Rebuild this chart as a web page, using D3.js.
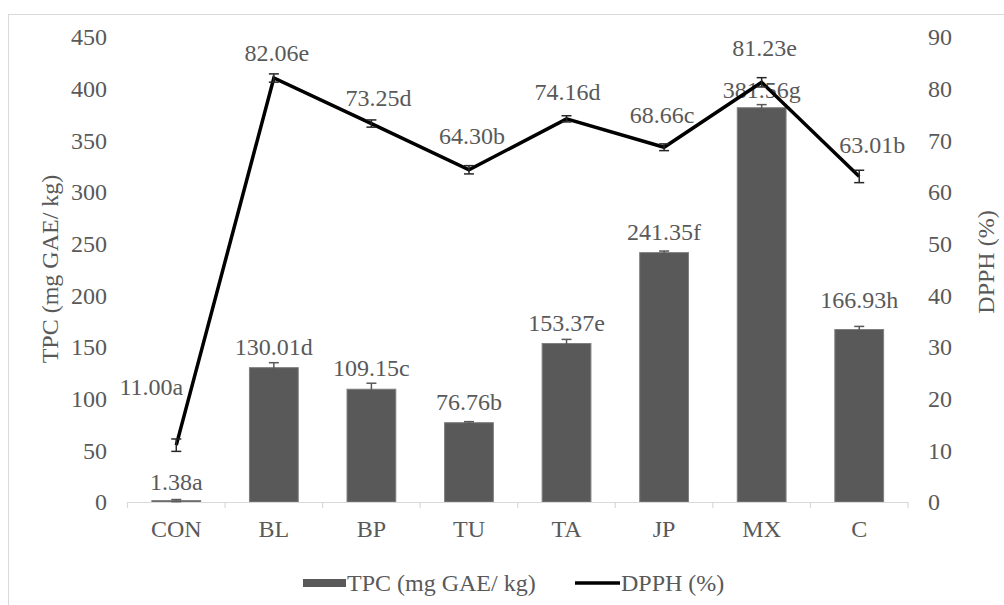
<!DOCTYPE html>
<html>
<head>
<meta charset="utf-8">
<script src="https://cdn.jsdelivr.net/npm/d3@7"></script>
<style>
  html, body { margin: 0; padding: 0; background: #fff; }
</style>
</head>
<body>
<svg id="chart" width="1004" height="605" font-family="'Liberation Serif', 'Times New Roman', 'DejaVu Serif', serif"></svg>
<script>
// Samples
const categories = ["CON", "BL", "BP", "TU", "TA", "JP", "MX", "C"];

// Total phenolic content (mg GAE/ kg) with standard deviation
const tpcValues = [1.38, 130.01, 109.15, 76.76, 153.37, 241.35, 381.56, 166.93];
const tpcErrors = [1.0, 4.8, 5.8, 1.0, 4.0, 1.5, 3.0, 3.0];
const tpcLetters = ["a", "d", "c", "b", "e", "f", "g", "h"];

// DPPH radical scavenging (%) with standard deviation
const dpphValues = [11.00, 82.06, 73.25, 64.30, 74.16, 68.66, 81.23, 63.01];
const dpphErrors = [1.2, 0.8, 0.7, 0.8, 0.6, 0.65, 0.9, 1.2];
const dpphLetters = ["a", "e", "d", "b", "d", "c", "e", "b"];

// Axis ticks
const leftTicks = [0, 50, 100, 150, 200, 250, 300, 350, 400, 450];
const rightTicks = [0, 10, 20, 30, 40, 50, 60, 70, 80, 90];

// Label placement nudges (dx, dy in px from the mark)
const dpphLabelShift = [[-25, -58], [3, -25], [7, -26], [3, -34], [1, -27], [-2, -32], [3, -34], [13, -31]];
const tpcLabelShift = [-19, -21, -21, -21, -21, -21, -18, -30];

const FONT_FAMILY = "'Liberation Serif', 'Times New Roman', 'DejaVu Serif', serif";
const FONT = 24;
const textColor = "#595959";

const svg = d3.select("#chart");

function styleText(sel) {
  return sel.attr("font-family", FONT_FAMILY)
    .attr("font-size", FONT)
    .attr("fill", textColor);
}

// Outer chart frame
svg.append("rect")
  .attr("x", 8.5).attr("y", 14.5)
  .attr("width", 1010).attr("height", 600)
  .attr("fill", "none").attr("stroke", "#d9d9d9").attr("stroke-width", 1);

const x = d3.scaleBand()
  .domain(categories)
  .range([127.5, 908])
  .paddingInner(0.5)
  .paddingOuter(0.25);

const yL = d3.scaleLinear().domain([0, 450]).range([502, 37]);
const yR = d3.scaleLinear().domain([0, 90]).range([502, 37]);

const cx = c => x(c) + x.bandwidth() / 2;

// Left axis labels
const gL = svg.append("g").attr("transform", "translate(107,0)")
  .call(d3.axisLeft(yL).tickValues(leftTicks).tickSize(0).tickPadding(0));
gL.attr("font-family", FONT_FAMILY);
gL.select(".domain").remove();
styleText(gL.selectAll("text"));

// Right axis labels
const gR = svg.append("g").attr("transform", "translate(928,0)")
  .call(d3.axisRight(yR).tickValues(rightTicks).tickSize(0).tickPadding(0));
gR.attr("font-family", FONT_FAMILY);
gR.select(".domain").remove();
styleText(gR.selectAll("text"));

// Bars
svg.append("g").selectAll("rect")
  .data(categories)
  .join("rect")
  .attr("x", c => x(c))
  .attr("width", x.bandwidth())
  .attr("y", (c, i) => yL(tpcValues[i]))
  .attr("height", (c, i) => yL(0) - yL(tpcValues[i]))
  .attr("fill", "#595959")
  .attr("stroke", "#7f7f7f")
  .attr("stroke-width", 1);

// Category axis: baseline, separator ticks and labels
const gX = svg.append("g").attr("transform", "translate(0,502)")
  .call(d3.axisBottom(x).tickSize(0).tickPadding(18));
gX.attr("font-family", FONT_FAMILY);
gX.select(".domain").attr("stroke", "#d9d9d9").attr("stroke-width", 1.2);
styleText(gX.selectAll("text"));

const half = x.step() * x.paddingInner() / 2;
const sepPositions = categories.map(c => x(c) - half)
  .concat([x(categories[categories.length - 1]) + x.bandwidth() + half]);
svg.append("g").selectAll("line")
  .data(sepPositions)
  .join("line")
  .attr("x1", d => d).attr("x2", d => d)
  .attr("y1", 502).attr("y2", 508)
  .attr("stroke", "#d9d9d9").attr("stroke-width", 1.2);

// Error bars
function errorBars(g, values, errors, scale, color, width, cap) {
  categories.forEach((c, i) => {
    const xc = cx(c);
    const y1 = scale(values[i] + errors[i]);
    const y0 = scale(Math.max(0, values[i] - errors[i]));
    g.append("line").attr("x1", xc).attr("x2", xc).attr("y1", y0).attr("y2", y1)
      .attr("stroke", color).attr("stroke-width", width);
    [y0, y1].forEach(yy => g.append("line")
      .attr("x1", xc - cap).attr("x2", xc + cap).attr("y1", yy).attr("y2", yy)
      .attr("stroke", color).attr("stroke-width", width));
  });
}
errorBars(svg.append("g"), tpcValues, tpcErrors, yL, "#595959", 1.5, 5);

// Bar value labels
styleText(svg.append("g").selectAll("text")
  .data(categories)
  .join("text")
  .attr("x", c => cx(c))
  .attr("y", (c, i) => yL(tpcValues[i]) + tpcLabelShift[i])
  .attr("text-anchor", "middle")
  .attr("dominant-baseline", "central")
  .text((c, i) => tpcValues[i].toFixed(2) + tpcLetters[i]));

// DPPH line
const line = d3.line()
  .x((d, i) => cx(categories[i]))
  .y(d => yR(d));
svg.append("path")
  .datum(dpphValues)
  .attr("d", line)
  .attr("fill", "none")
  .attr("stroke", "#000")
  .attr("stroke-width", 3.5)
  .attr("stroke-linejoin", "miter");

errorBars(svg.append("g"), dpphValues, dpphErrors, yR, "#262626", 1.5, 5);

// DPPH value labels
styleText(svg.append("g").selectAll("text")
  .data(categories)
  .join("text")
  .attr("x", (c, i) => cx(c) + dpphLabelShift[i][0])
  .attr("y", (c, i) => yR(dpphValues[i]) + dpphLabelShift[i][1])
  .attr("text-anchor", "middle")
  .attr("dominant-baseline", "central")
  .text((c, i) => dpphValues[i].toFixed(2) + dpphLetters[i]));

// Axis titles
styleText(svg.append("text")
  .attr("transform", "translate(50,269) rotate(-90)")
  .attr("text-anchor", "middle")
  .attr("dominant-baseline", "central")
  .text("TPC (mg GAE/ kg)"));

styleText(svg.append("text")
  .attr("transform", "translate(986,262) rotate(-90)")
  .attr("text-anchor", "middle")
  .attr("dominant-baseline", "central")
  .text("DPPH (%)"));

// Legend
const lg = svg.append("g");
lg.append("rect").attr("x", 303).attr("y", 579).attr("width", 43).attr("height", 8)
  .attr("fill", "#595959");
styleText(lg.append("text").attr("x", 347).attr("y", 583).attr("dominant-baseline", "central")
  .text("TPC (mg GAE/ kg)"));
lg.append("line").attr("x1", 575).attr("x2", 620).attr("y1", 583).attr("y2", 583)
  .attr("stroke", "#000").attr("stroke-width", 3.5);
styleText(lg.append("text").attr("x", 621).attr("y", 583).attr("dominant-baseline", "central")
  .text("DPPH (%)"));
</script>
</body>
</html>
